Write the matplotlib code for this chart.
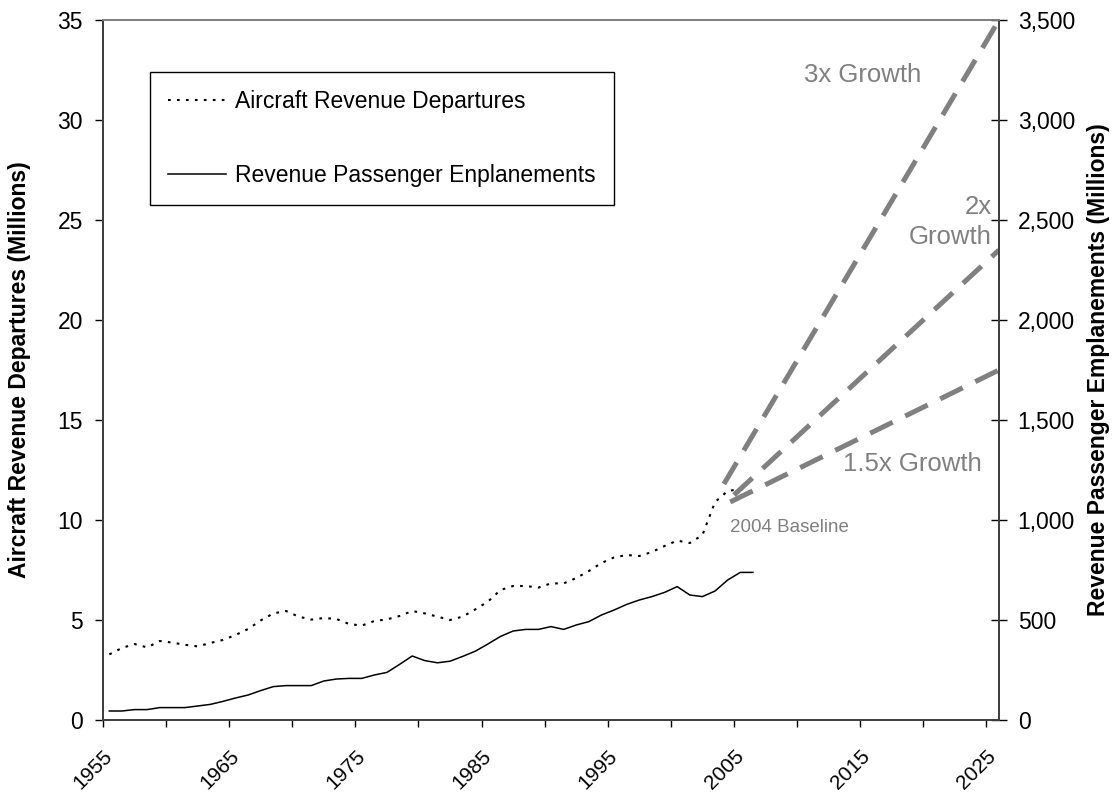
import matplotlib
matplotlib.use("Agg")
import matplotlib.pyplot as plt
from matplotlib.ticker import FuncFormatter
from matplotlib.transforms import ScaledTranslation

plt.rcParams['font.family'] = ['Liberation Sans', 'DejaVu Sans']

# annual values
years = list(range(1955, 2007))
departures = [3.28, 3.6, 3.8, 3.63, 3.95, 3.87, 3.76, 3.68, 3.85, 4.0,
              4.25, 4.55, 4.98, 5.33, 5.45, 5.17, 5.02, 5.1, 5.05, 4.8,
              4.72, 4.95, 5.03, 5.2, 5.45, 5.33, 5.17, 5.0, 5.17, 5.53,
              5.92, 6.5, 6.7, 6.7, 6.62, 6.83, 6.83, 7.1, 7.45, 7.85,
              8.13, 8.25, 8.2, 8.4, 8.7, 8.97, 8.85, 9.25, 10.9, 11.45,
              11.55, 11.4]
enplanements = [45, 45, 52, 52, 62, 62, 62, 70, 78, 93,
                110, 125, 147, 167, 172, 172, 172, 195, 205, 208,
                208, 225, 238, 278, 320, 297, 286, 294, 318, 344,
                380, 418, 445, 453, 453, 467, 453, 475, 492, 525,
                550, 578, 600, 617, 638, 667, 625, 617, 645, 700,
                738, 738]

# growth projections (left axis units)
growth_start_year = [2003.7, 2004.5, 2004.2]
growth_start_val = [11.8, 11.25, 10.9]
growth_end_val = [35, 23.5, 17.5]

x_lo, x_hi = 1954.5, 2025.5
tick_years = list(range(1955, 2026, 5))

fig = plt.figure(figsize=(11.2, 7.95), dpi=100)
ax = fig.add_axes([103 / 1120, 75 / 795, 896 / 1120, 700 / 795])
ax2 = ax.twinx()

ax.plot(years, departures, color='black', lw=1.5, dashes=(1.3, 3.0),
        label='Aircraft Revenue Departures')
ax2.plot(years, enplanements, color='black', lw=1.1,
         label='Revenue Passenger Enplanements')

gray = '#808080'
for sy, sv, ev in zip(growth_start_year, growth_start_val, growth_end_val):
    ax.plot([sy, x_hi], [sv, ev], color=gray, lw=3.6, dashes=(5, 2.8),
            solid_capstyle='butt', dash_capstyle='butt')

ax.set_xlim(x_lo, x_hi)
ax.set_ylim(0, 35)
ax2.set_ylim(0, 3500)
ax.set_yticks(range(0, 36, 5))
ax2.set_yticks(range(0, 3501, 500))
ax2.yaxis.set_major_formatter(FuncFormatter(lambda v, p: f"{int(v):,}"))

ax.set_xticks([y - 0.5 for y in tick_years])
ax.set_xticklabels([str(y) if (y - 1955) % 10 == 0 else '' for y in tick_years],
                   rotation=45, ha='right', va='top', rotation_mode='anchor')
shift = ScaledTranslation(-0.18, 0, fig.dpi_scale_trans)
for lab in ax.get_xticklabels():
    lab.set_transform(lab.get_transform() + shift)

ax.tick_params(axis='y', direction='out', length=6, width=1, labelsize=16.5, pad=8.5)
ax.tick_params(axis='x', direction='out', length=5, width=1, labelsize=15, pad=14)
ax2.tick_params(axis='y', direction='inout', length=11, width=1, labelsize=16.5, pad=8)

for a in (ax, ax2):
    for side in ('left', 'bottom', 'right'):
        a.spines[side].set_color('#404040')
        a.spines[side].set_linewidth(1.3)
    a.spines['top'].set_color(gray)
    a.spines['top'].set_linewidth(1.3)

ax.set_ylabel('Aircraft Revenue Departures (Millions)', fontsize=16.5,
              fontweight='bold', labelpad=19)
ax2.set_ylabel('Revenue Passenger Emplanements (Millions)', fontsize=16.5,
               fontweight='bold', labelpad=9)

ax.text(2014.7, 32.25, '3x Growth', color=gray, fontsize=18.5, ha='center', va='center')
ax.text(2024.9, 24.9, '2x\nGrowth', color=gray, fontsize=18.5, ha='right', va='center',
        linespacing=1.35)
ax.text(2024.15, 12.8, '1.5x Growth', color=gray, fontsize=18.5, ha='right', va='center')
ax.text(2004.2, 9.6, '2004 Baseline', color=gray, fontsize=13.5, ha='left', va='center')

h1, l1 = ax.get_legend_handles_labels()
h2, l2 = ax2.get_legend_handles_labels()
leg = ax.legend(h1[:1] + h2, l1[:1] + l2, loc='upper left',
                bbox_to_anchor=(150 / 1120, 1 - 72 / 795), bbox_transform=fig.transFigure,
                borderaxespad=0, fontsize=16.5, frameon=True, fancybox=False,
                edgecolor='black', framealpha=1, labelspacing=2.2,
                handlelength=2.5, handletextpad=0.4, borderpad=0.8)
leg.get_frame().set_linewidth(1.0)

fig.savefig('out.png', dpi=100)
